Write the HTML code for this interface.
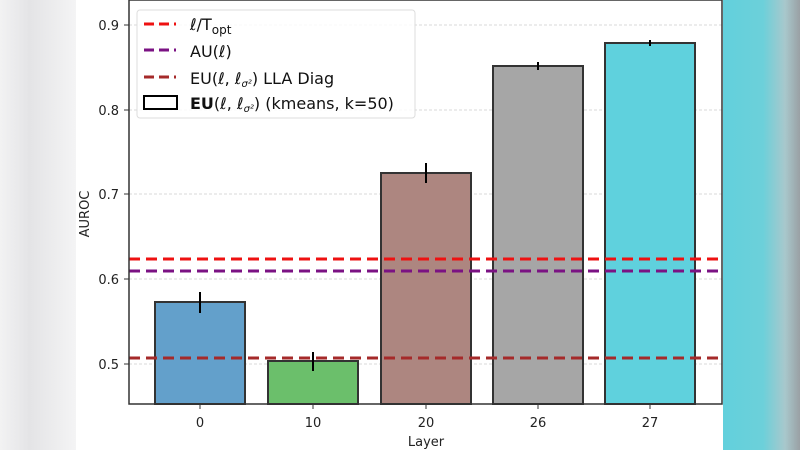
<!DOCTYPE html>
<html><head><style>
html,body{margin:0;padding:0;width:800px;height:450px;overflow:hidden}
body{background:linear-gradient(90deg,#f2f2f3 0,#e4e4e6 30px,#f4f4f5 76px);position:relative;font-family:"DejaVu Sans","Liberation Sans",sans-serif}
#right{position:absolute;left:723px;top:0;width:77px;height:450px;background:linear-gradient(90deg,#62d0dc 0,#6cd0da 40px,#a8c8cc 62px,#9aa0a4 77px)}
#white{position:absolute;left:76px;top:0;width:647px;height:450px;background:#fff}
svg{position:absolute;left:0;top:0}
</style></head><body>
<div id="white"></div><div id="right"></div>
<svg width="800" height="450" xmlns="http://www.w3.org/2000/svg" font-family="DejaVu Sans, Liberation Sans, sans-serif">
<g stroke="#ccc" stroke-width="0.8" stroke-dasharray="3,2">
<line x1="129" x2="722" y1="25" y2="25"/><line x1="129" x2="722" y1="110" y2="110"/>
<line x1="129" x2="722" y1="194" y2="194"/><line x1="129" x2="722" y1="279" y2="279"/>
<line x1="129" x2="722" y1="364" y2="364"/>
</g>
<g stroke="#333" stroke-width="2" fill-opacity="1">
<rect x="155" y="302" width="90" height="102" fill="#63a0cb"/>
<rect x="268" y="361" width="90" height="43" fill="#6bbf6b"/>
<rect x="381" y="173" width="90" height="231" fill="#ad8680"/>
<rect x="493" y="66" width="90" height="338" fill="#a6a6a6"/>
<rect x="605" y="43" width="90" height="361" fill="#5fd1dd"/>
</g>
<g stroke="#000" stroke-width="2">
<line x1="200" x2="200" y1="292" y2="313"/><line x1="313" x2="313" y1="352" y2="371"/>
<line x1="426" x2="426" y1="163" y2="183"/><line x1="538" x2="538" y1="62" y2="70"/>
<line x1="650" x2="650" y1="40" y2="46"/>
</g>
<g stroke-width="3" stroke-dasharray="11,6">
<line x1="129" x2="722" y1="259" y2="259" stroke="#ee1111"/>
<line x1="129" x2="722" y1="271" y2="271" stroke="#7b1283"/>
<line x1="129" x2="722" y1="358" y2="358" stroke="#a52a2a"/>
</g>
<rect x="129" y="0" width="593" height="404" fill="none" stroke="#333" stroke-width="1.5"/>
<g stroke="#333" stroke-width="1">
<line x1="124" x2="129" y1="25" y2="25"/><line x1="124" x2="129" y1="110" y2="110"/>
<line x1="124" x2="129" y1="194" y2="194"/><line x1="124" x2="129" y1="279" y2="279"/>
<line x1="124" x2="129" y1="364" y2="364"/>
<line x1="200" x2="200" y1="404" y2="409"/><line x1="313" x2="313" y1="404" y2="409"/>
<line x1="426" x2="426" y1="404" y2="409"/><line x1="538" x2="538" y1="404" y2="409"/>
<line x1="650" x2="650" y1="404" y2="409"/>
</g>
<g font-size="13" fill="#222" text-anchor="end">
<text x="119" y="30">0.9</text><text x="119" y="115">0.8</text><text x="119" y="199">0.7</text>
<text x="119" y="284">0.6</text><text x="119" y="369">0.5</text>
</g>
<g font-size="13" fill="#222" text-anchor="middle">
<text x="200" y="427">0</text><text x="313" y="427">10</text><text x="426" y="427">20</text>
<text x="538" y="427">26</text><text x="650" y="427">27</text>
<text x="426" y="446">Layer</text>
<text transform="translate(89,214) rotate(-90)">AUROC</text>
</g>
<rect x="137" y="10" width="278" height="108" rx="3" fill="#fff" fill-opacity="0.85" stroke="#ddd"/>
<g stroke-width="3" stroke-dasharray="10,5">
<line x1="144" x2="176" y1="24" y2="24" stroke="#ee1111"/>
<line x1="144" x2="176" y1="50" y2="50" stroke="#7b1283"/>
<line x1="144" x2="176" y1="77" y2="77" stroke="#a52a2a"/>
</g>
<rect x="144" y="96" width="33" height="13" fill="none" stroke="#000" stroke-width="2"/>
<g font-size="16" fill="#111">
<text x="190" y="30"><tspan font-style="italic">ℓ</tspan>/T<tspan font-size="12" dy="4">opt</tspan></text>
<text x="190" y="57">AU(<tspan font-style="italic">ℓ</tspan>)</text>
<text x="190" y="84">EU(<tspan font-style="italic">ℓ</tspan>, <tspan font-style="italic">ℓ</tspan><tspan font-size="10" dy="3" font-style="italic">σ²</tspan><tspan dy="-3">) LLA Diag</tspan></text>
<text x="190" y="109"><tspan font-weight="bold">EU</tspan>(<tspan font-style="italic">ℓ</tspan>, <tspan font-style="italic">ℓ</tspan><tspan font-size="10" dy="3" font-style="italic">σ²</tspan><tspan dy="-3">) (kmeans, k=50)</tspan></text>
</g>
</svg>
</body></html>
